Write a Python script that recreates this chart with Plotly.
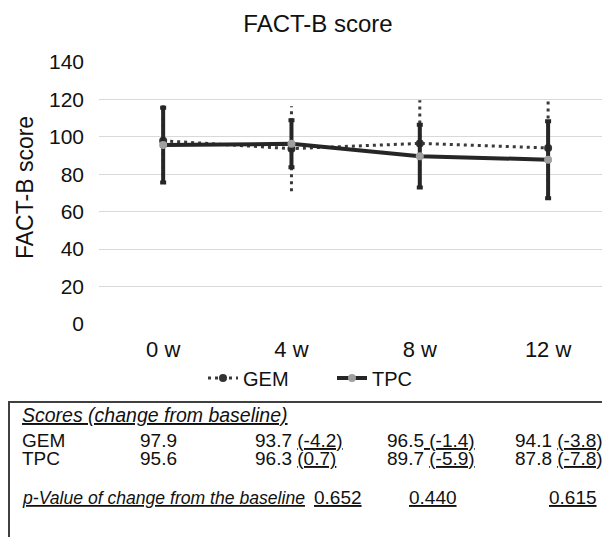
import plotly.graph_objects as go

# ---- data ----
weeks = ["0 w", "4 w", "8 w", "12 w"]
gem_mean = [97.9, 93.7, 96.5, 94.1]
gem_sd = [19.0, 22.7, 23.0, 25.4]
tpc_mean = [95.6, 96.3, 89.7, 87.8]
tpc_sd = [20.0, 12.6, 16.8, 20.6]
gem_change = [None, "(-4.2)", "(-1.4)", "(-3.8)"]
tpc_change = [None, "(0.7)", "(-5.9)", "(-7.8)"]
p_values = ["0.652", "0.440", "0.615"]
y_ticks = [0, 20, 40, 60, 80, 100, 120, 140]

FONT = "Liberation Sans, Arial, sans-serif"
OFF = 0  # body margin removed via post_script
W, H = 602, 537
ML, MR, MT, MB = 99, 0, 62, 213
PW = W - ML - MR
PH = H - MT - MB


def px(xp):
    return (xp - OFF - ML) / PW


def py(yp):
    return (H - MB - (yp - OFF)) / PH


fig = go.Figure()

# GEM dotted error bars (mean +/- sd)
ex, ey = [], []
for w, m, s in zip(weeks, gem_mean, gem_sd):
    ex += [w, w, None]
    ey += [m - s, m + s, None]
fig.add_trace(go.Scatter(x=ex, y=ey, mode="lines", showlegend=False,
                         hoverinfo="skip",
                         line=dict(color="#3a3a3a", width=3, dash="3px,4px")))

fig.add_trace(go.Scatter(
    x=weeks, y=gem_mean, name="GEM", mode="lines+markers",
    line=dict(color="#3a3a3a", width=3, dash="3px,4px"),
    marker=dict(color="#333333", size=8)))

fig.add_trace(go.Scatter(
    x=weeks, y=tpc_mean, name="TPC", mode="lines+markers",
    line=dict(color="#262626", width=4),
    marker=dict(color="#a0a0a0", size=8),
    error_y=dict(type="data", array=tpc_sd, visible=True,
                 color="#262626", thickness=4, width=3)))

fig.update_layout(
    width=W, height=H, autosize=False,
    margin=dict(l=ML, r=MR, t=MT, b=MB),
    paper_bgcolor="white", plot_bgcolor="white",
    font=dict(family=FONT, color="#111111"),
    title=dict(text="FACT-B score", xref="container", x=(318 - OFF) / W,
               xanchor="center", y=1 - (24 - OFF) / H, yanchor="middle",
               font=dict(size=24, family=FONT, color="#111111")),
    xaxis=dict(type="category", categoryorder="array", categoryarray=weeks,
               range=[-0.5, 3.42], showgrid=False, zeroline=False,
               showline=False, ticks="", tickfont=dict(size=22),
               ticklabelstandoff=10),
    yaxis=dict(range=[0, 140], tickvals=y_ticks, showgrid=True,
               gridcolor="#d9d9d9", gridwidth=1, zeroline=False,
               showline=False, ticks="", tickfont=dict(size=21),
               ticklabelstandoff=14),
    legend=dict(orientation="h", x=px(203), xanchor="left",
                y=py(378), yanchor="middle", font=dict(size=20),
                entrywidth=84, bgcolor="rgba(0,0,0,0)"),
    showlegend=True,
)

annots = []
annots.append(dict(text="FACT-B score", textangle=-90, x=px(25), y=py(188),
                   font=dict(size=23)))

# table box
fig.add_shape(type="rect", xref="paper", yref="paper",
              x0=px(9), x1=px(640), y0=py(402), y1=py(580),
              line=dict(color="#404040", width=2), fillcolor="rgba(0,0,0,0)")

TS = 19
annots.append(dict(text="<i><u>Scores (change from baseline)</u></i>",
                   x=px(20), y=py(415), xanchor="left", font=dict(size=19.5)))
annots.append(dict(text="GEM", x=px(20), y=py(440), xanchor="left", font=dict(size=TS)))
annots.append(dict(text="TPC", x=px(20), y=py(458), xanchor="left", font=dict(size=TS)))

col_left = [138, 253, 385, 513]
for i in range(4):
    for mean, chg, yy in ((gem_mean, gem_change, 440), (tpc_mean, tpc_change, 458)):
        t = f"{mean[i]:.1f}"
        if chg[i] is not None:
            if i == 2 and yy == 440:
                t += "<u> " + chg[i] + "</u>"
            else:
                t += " <u>" + chg[i] + "</u>"
        annots.append(dict(text=t, x=px(col_left[i]), y=py(yy),
                           xanchor="left", font=dict(size=TS)))

annots.append(dict(text="<i><u>p-Value of change from the baseline</u></i>",
                   x=px(20), y=py(498), xanchor="left", font=dict(size=17.6)))
for pv, xl in zip(p_values, [312, 407, 547]):
    annots.append(dict(text="<u>" + pv + "</u>", x=px(xl), y=py(498),
                       xanchor="left", font=dict(size=TS)))

for a in annots:
    a.setdefault("xanchor", "center")
    a.update(xref="paper", yref="paper", showarrow=False, yanchor="middle")
    a["font"] = dict(family=FONT, color="#111111", size=a["font"]["size"])
fig.update_layout(annotations=annots)

fig.write_html("out.html",
               config={"displayModeBar": False},
               post_script="document.body.style.margin='0';"
                           "document.body.style.overflow='hidden';")
